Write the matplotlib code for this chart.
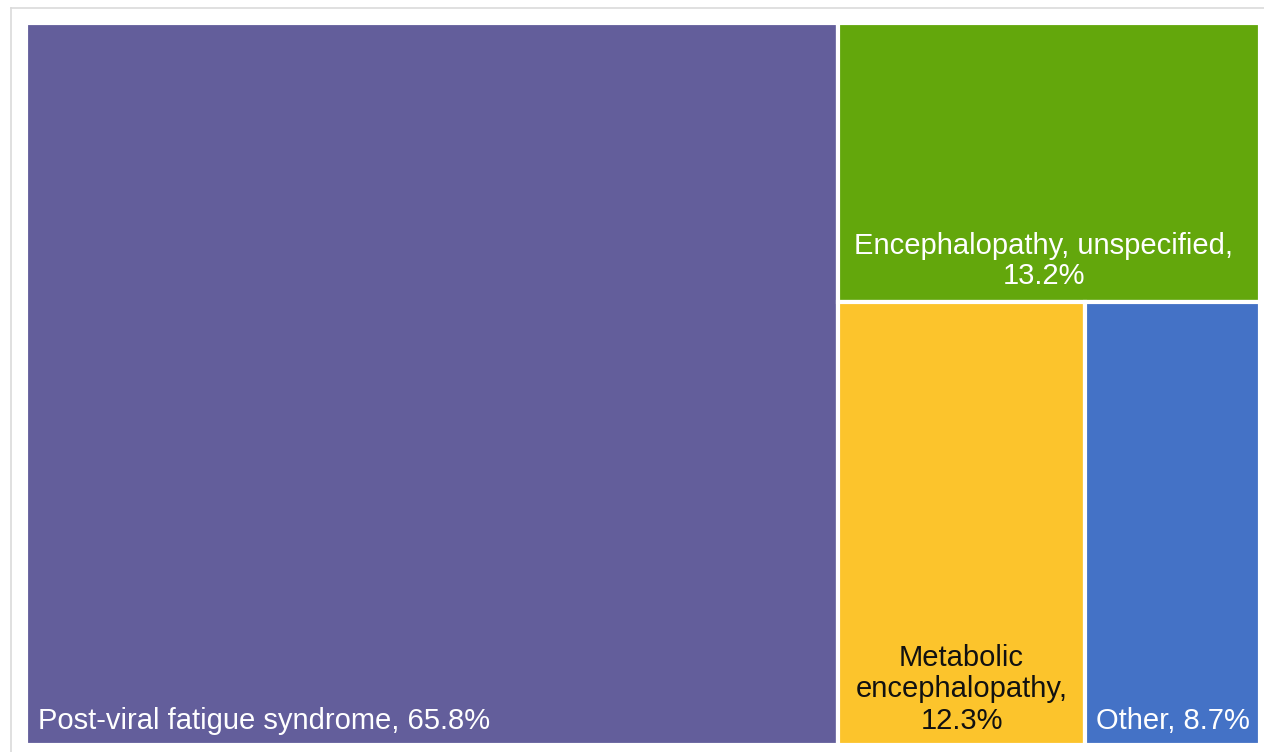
import matplotlib
matplotlib.use("Agg")
import matplotlib.pyplot as plt
from matplotlib.patches import Rectangle

categories = ["Post-viral fatigue syndrome", "Encephalopathy, unspecified",
              "Metabolic encephalopathy", "Other"]
labels = ["Post-viral fatigue syndrome, 65.8%", "Encephalopathy, unspecified,\n13.2%",
          "Metabolic\nencephalopathy,\n12.3%", "Other, 8.7%"]
values = [65.8, 13.2, 12.3, 8.7]
colors = ["#635E9B", "#63A70C", "#FCC42C", "#4472C6"]
text_colors = ["white", "white", "#111111", "white"]

plt.rcParams['font.family'] = ['Liberation Sans', 'DejaVu Sans']

W, H = 1264, 752
fig = plt.figure(figsize=(W / 100, H / 100), dpi=100)
fig.patch.set_facecolor("white")

# light frame (top and left edges visible)
fig.add_artist(plt.Line2D([11 / W, 11 / W], [0, 1 - 8 / H], color="#DADADA", lw=1.2))
fig.add_artist(plt.Line2D([11 / W, 1], [1 - 8 / H, 1 - 8 / H], color="#DADADA", lw=1.2))

x0, x1, y0, y1 = 26, 1260, 745, 23  # pixel box (including half gaps)
ax = fig.add_axes([x0 / W, 1 - y0 / H, (x1 - x0) / W, (y0 - y1) / H])
ax.set_xlim(0, 1)
ax.set_ylim(0, 1)
ax.axis("off")

total = sum(values)
# treemap layout: first item as left column, second on top of the rest, remaining split as a row
w0 = values[0] / total
rest = total - values[0]
h1 = values[1] / rest
rects = [(0, 0, w0, 1), (w0, 1 - h1, 1 - w0, h1)]
rem = values[2] + values[3]
wa = (1 - w0) * values[2] / rem
rects.append((w0, 0, wa, 1 - h1))
rects.append((w0 + wa, 0, 1 - w0 - wa, 1 - h1))

for (x, y, w, h), c in zip(rects, colors):
    ax.add_patch(Rectangle((x, y), w, h, facecolor=c, edgecolor="white", lw=3))

fs = 21
px = lambda p: p / (x1 - x0)
py = lambda p: p / (y0 - y1)
# label placement
x, y, w, h = rects[0]
ax.text(x + px(12), y + py(10), labels[0], color=text_colors[0], fontsize=fs,
        ha="left", va="bottom")
x, y, w, h = rects[1]
ax.text(x + w / 2 - px(5), y + py(12), labels[1], color=text_colors[1], fontsize=fs,
        ha="center", va="bottom", linespacing=1.08, multialignment="center")
x, y, w, h = rects[2]
ax.text(x + w / 2, y + py(10), labels[2], color=text_colors[2], fontsize=fs,
        ha="center", va="bottom", linespacing=1.16, multialignment="center")
x, y, w, h = rects[3]
ax.text(x + w / 2, y + py(10), labels[3], color=text_colors[3], fontsize=fs,
        ha="center", va="bottom")

fig.savefig("out.png", dpi=100, facecolor="white")
